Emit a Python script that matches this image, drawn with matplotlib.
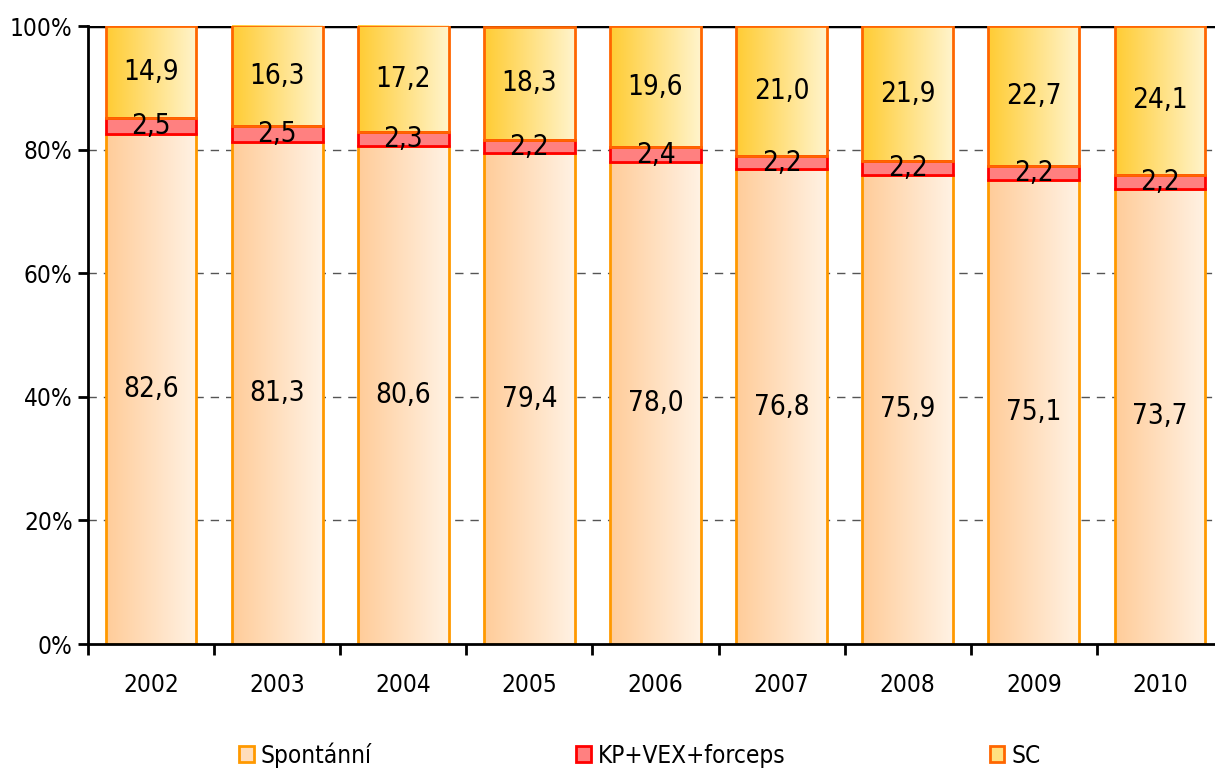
import matplotlib
matplotlib.use("Agg")
import matplotlib.pyplot as plt
import numpy as np
from matplotlib.patches import Rectangle
from matplotlib.colors import LinearSegmentedColormap

plt.rcParams['font.family'] = ['DejaVu Sans']
plt.rcParams['font.stretch'] = 'condensed'

years = ['2002', '2003', '2004', '2005', '2006', '2007', '2008', '2009', '2010']
spontanni = [82.6, 81.3, 80.6, 79.4, 78.0, 76.8, 75.9, 75.1, 73.7]
kp = [2.5, 2.5, 2.3, 2.2, 2.4, 2.2, 2.2, 2.2, 2.2]
sc = [14.9, 16.3, 17.2, 18.3, 19.6, 21.0, 21.9, 22.7, 24.1]
series_names = ['Spontánní', 'KP+VEX+forceps', 'SC']

fig = plt.figure(figsize=(12.15, 7.71), dpi=100)
ax = fig.add_axes([88/1215, 1-644/771, (1223-88)/1215, (644-26)/771])

x = np.arange(len(years))
w = 0.72

cmap_sp = LinearSegmentedColormap.from_list('sp', ['#FFCC99', '#FFF2E4'])
cmap_sc = LinearSegmentedColormap.from_list('sc', ['#FFCC33', '#FFF4CC'])
grad = np.linspace(0, 1, 256).reshape(1, -1)

def grad_bars(bars, cmap):
    for b in bars:
        x0, y0 = b.get_x(), b.get_y()
        bw, bh = b.get_width(), b.get_height()
        im = ax.imshow(grad, cmap=cmap, aspect='auto',
                       extent=[x0, x0 + bw, y0, y0 + bh], zorder=2,
                       interpolation='bilinear')
        im.set_clip_path(b)

b1 = ax.bar(x, spontanni, w, facecolor='none', edgecolor='#FF9900', linewidth=2, zorder=3)
grad_bars(b1, cmap_sp)
bottom2 = np.array(spontanni)
b2 = ax.bar(x, kp, w, bottom=bottom2, facecolor='#FF8080', edgecolor='#FF0000', linewidth=2, zorder=3)
bottom3 = bottom2 + np.array(kp)
b3 = ax.bar(x, sc, w, bottom=bottom3, facecolor='none', edgecolor='#FF6600', linewidth=2, zorder=3)
grad_bars(b3, cmap_sc)

def fmt(v):
    return f'{v:.1f}'.replace('.', ',')

for i in range(len(years)):
    ax.text(x[i], spontanni[i] / 2, fmt(spontanni[i]), ha='center', va='center',
            fontsize=20, zorder=5)
    ax.text(x[i], bottom2[i] + kp[i] / 2, fmt(kp[i]), ha='center', va='center',
            fontsize=20, zorder=5)
    ax.text(x[i], bottom3[i] + sc[i] / 2, fmt(sc[i]), ha='center', va='center',
            fontsize=20, zorder=5)

ax.set_xlim(-0.5, len(years) - 0.5)
ax.set_ylim(0, 100)
ax.set_yticks([0, 20, 40, 60, 80, 100])
ax.set_yticklabels(['0%', '20%', '40%', '60%', '80%', '100%'], fontsize=17.5)
ax.set_xticks(x)
ax.set_xticklabels(years, fontsize=17.5)
ax.set_xticks(np.arange(-0.5, len(years), 1), minor=True)
ax.tick_params(axis='x', which='major', length=0, pad=21)
ax.tick_params(axis='x', which='minor', length=8, width=2, direction='out')
ax.tick_params(axis='y', length=7, width=2, direction='out', pad=4)

for yv in [20, 40, 60, 80]:
    ax.axhline(yv, color='#555555', linestyle=(0, (6, 5)), linewidth=1, zorder=1)
ax.axhline(100, color='black', linewidth=2.5, zorder=1)

for s in ['top', 'right']:
    ax.spines[s].set_visible(False)
ax.spines['left'].set_linewidth(2)
ax.spines['bottom'].set_linewidth(2)
ax.spines['bottom'].set_zorder(4)

handles = [Rectangle((0, 0), 1, 1, facecolor='#FFDDBB', edgecolor='#FF9900', linewidth=2),
           Rectangle((0, 0), 1, 1, facecolor='#FF8080', edgecolor='#FF0000', linewidth=2),
           Rectangle((0, 0), 1, 1, facecolor='#FFE080', edgecolor='#FF6600', linewidth=2)]
fig.legend(handles, series_names, loc='center', bbox_to_anchor=(640/1215, 1-755/771),
           ncol=3, frameon=False, fontsize=17.5, handlelength=0.6, handleheight=0.6,
           handletextpad=0.3, columnspacing=8.4)

fig.savefig('out.png', dpi=100)
